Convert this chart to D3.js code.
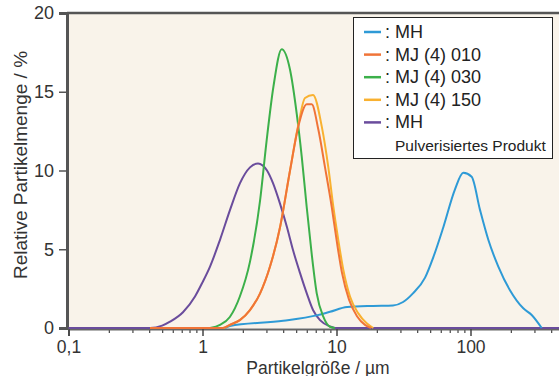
<!DOCTYPE html>
<html>
<head>
<meta charset="utf-8">
<script src="https://cdn.jsdelivr.net/npm/d3@7"></script>
<style>
  body { margin: 0; background: #fff; }
  svg { display: block; font-family: "Liberation Sans", Arial, sans-serif; }
</style>
</head>
<body>
<div id="chart-area"></div>
<script>
// particle size (µm) / relative amount (%)
const mh = [[1.47,0],[1.6,0.13],[4.0,0.46],[7.1,0.8],[8.94,1.03],[12.0,1.33],[18.8,1.4],[26.4,1.43],[31.4,1.65],[37.2,2.2],[45.8,3.2],[52.8,4.5],[62.7,6.4],[76.6,8.8],[88.4,9.85],[102,9.6],[117.7,7.5],[135.8,5.6],[161.3,3.9],[197,2.4],[247.7,1.25],[286.2,0.83],[340,0]];
const mj010 = [[0.406,0],[1.42,0],[1.6,0.2],[1.9,0.5],[2.26,1.14],[2.69,2.2],[3.19,3.9],[3.79,6.4],[4.5,10.0],[5.19,12.8],[6.0,14.2],[6.53,14.2],[7.32,12.6],[8.21,10.2],[9.21,7.7],[10.09,5.4],[10.99,3.5],[12.4,1.8],[14.22,0.75],[16.32,0.2],[18.09,0]];
const mj030 = [[1.14,0],[1.35,0.2],[1.6,0.7],[1.9,2.0],[2.26,4.2],[2.69,8.1],[3.01,11.9],[3.38,15.3],[3.9,17.7],[4.5,16.4],[5.05,13.6],[5.5,10.9],[5.99,7.7],[6.53,4.7],[7.12,2.2],[7.97,0.72],[8.94,0.08],[9.74,0]];
const mj150 = [[0.406,0],[1.42,0],[1.6,0.2],[1.9,0.5],[2.26,1.14],[2.69,2.2],[3.19,3.9],[3.79,6.4],[4.5,10.0],[5.19,12.9],[5.82,14.6],[6.68,14.8],[7.76,12.8],[8.69,10.2],[9.47,7.7],[10.31,5.6],[11.24,3.7],[12.61,2.0],[14.55,0.93],[16.8,0.3],[18.82,0]];
const mhPulver = [[0.1,0],[0.406,0],[0.5,0.15],[0.572,0.4],[0.715,1.0],[0.879,2.0],[1.0,2.9],[1.138,3.9],[1.351,5.6],[1.605,7.5],[1.905,9.2],[2.262,10.2],[2.596,10.45],[3.03,10.0],[3.358,9.2],[3.788,7.9],[4.272,6.4],[4.736,4.95],[5.34,3.5],[6.0,2.2],[6.68,1.14],[7.53,0.5],[8.94,0.1],[9.74,0],[500,0]];

const legendLabels = [": MH", ": MJ (4) 010", ": MJ (4) 030", ": MJ (4) 150", ": MH"];
const legendNote = "Pulverisiertes Produkt";
const xTicks = [0.1, 1, 10, 100];
const xTickLabels = ["0,1", "1", "10", "100"];
const yTicks = [0, 5, 10, 15, 20];

const W = 559, H = 376;
const margin = { left: 67, top: 13, bottom: 48 };
const HEIGHT = H - margin.top - margin.bottom;
const FONT = "'Liberation Sans', Arial, sans-serif";

const svg = d3.select("#chart-area").append("svg").attr("width", W).attr("height", H);

var x = d3.scaleLog().domain([0.1, 500]).range([margin.left + 1.5, margin.left + 1.5 + 134 * Math.log10(5000)]);
var y = d3.scaleLinear().domain([0, 20]).range([margin.top + HEIGHT, margin.top]);

// plot background
svg.append("rect").attr("x", margin.left).attr("y", margin.top)
    .attr("width", W - margin.left).attr("height", HEIGHT).attr("fill", "#f9f3ea");

// minor ticks
const minor = [];
[0.1, 1, 10, 100].forEach(d => { for (let k = 2; k <= 9; k++) if (d * k <= 500) minor.push(d * k); });
svg.append("g").attr("transform", `translate(0,${y(0) + 1})`)
    .call(d3.axisBottom(x).tickValues(minor).tickSize(4).tickFormat(""))
    .call(g => g.select(".domain").remove())
    .selectAll("line").attr("stroke", "#444").attr("stroke-width", 1.2);

var xAxisGroup = svg.append("g").attr("transform", `translate(0,${y(0) + 1})`)
    .call(d3.axisBottom(x).tickValues(xTicks).tickSize(7).tickPadding(5).tickFormat((d, i) => xTickLabels[i]));
xAxisGroup.select(".domain").attr("stroke", "#666").attr("stroke-width", 2);
xAxisGroup.selectAll("line").attr("stroke", "#444").attr("stroke-width", 1.5);
xAxisGroup.selectAll("text").attr("font-size", "17.5px").attr("fill", "#333").attr("font-family", FONT);

var yAxisGroup = svg.append("g").attr("transform", `translate(${margin.left},0)`)
    .call(d3.axisLeft(y).tickValues(yTicks).tickSize(8).tickPadding(5));
yAxisGroup.select(".domain").attr("stroke", "#555").attr("stroke-width", 3);
yAxisGroup.selectAll("line").attr("stroke", "#555").attr("stroke-width", 1.5);
yAxisGroup.selectAll("text").attr("font-size", "18px").attr("fill", "#333").attr("font-family", FONT);

// top border
svg.append("line").attr("x1", margin.left).attr("x2", W).attr("y1", margin.top).attr("y2", margin.top)
    .attr("stroke", "#555").attr("stroke-width", 2.5);

const line = d3.line().curve(d3.curveMonotoneX).x(d => x(d[0])).y(d => y(d[1]));
const series = [
    { data: mhPulver, color: "#6a4c9c" },
    { data: mh, color: "#2e9ad6" },
    { data: mj030, color: "#3cb04a" },
    { data: mj150, color: "#f9b130" },
    { data: mj010, color: "#f07438" }
];
svg.append("g").selectAll("path").data(series).enter().append("path")
    .attr("d", s => line(s.data)).attr("fill", "none")
    .attr("stroke", s => s.color).attr("stroke-width", 2).attr("stroke-linejoin", "round");

// legend
const legendColors = ["#2e9ad6", "#f07438", "#3cb04a", "#f9b130", "#6a4c9c"];
const legend = svg.append("g");
legend.append("rect").attr("x", 353.5).attr("y", 17.5).attr("width", 199).attr("height", 141)
    .attr("fill", "#fff").attr("stroke", "#222").attr("stroke-width", 1);
legendLabels.forEach((t, i) => {
    const by = 38 + i * 22.6;
    legend.append("line").attr("x1", 364).attr("x2", 381).attr("y1", by - 6).attr("y2", by - 6)
        .attr("stroke", legendColors[i]).attr("stroke-width", 2.5);
    legend.append("text").attr("x", 385).attr("y", by).attr("font-size", "18px").attr("fill", "#222").text(t);
});
legend.append("text").attr("x", 395).attr("y", 151).attr("font-size", "15.5px").attr("fill", "#222").text(legendNote);

// axis titles
svg.append("text").attr("x", 318).attr("y", 373.5).attr("text-anchor", "middle")
    .attr("font-size", "17.5px").attr("fill", "#333").text("Partikelgröße / µm");
svg.append("text").attr("transform", "translate(27,165) rotate(-90)").attr("text-anchor", "middle")
    .attr("font-size", "19px").attr("fill", "#333").text("Relative Partikelmenge / %");
</script>
</body>
</html>
